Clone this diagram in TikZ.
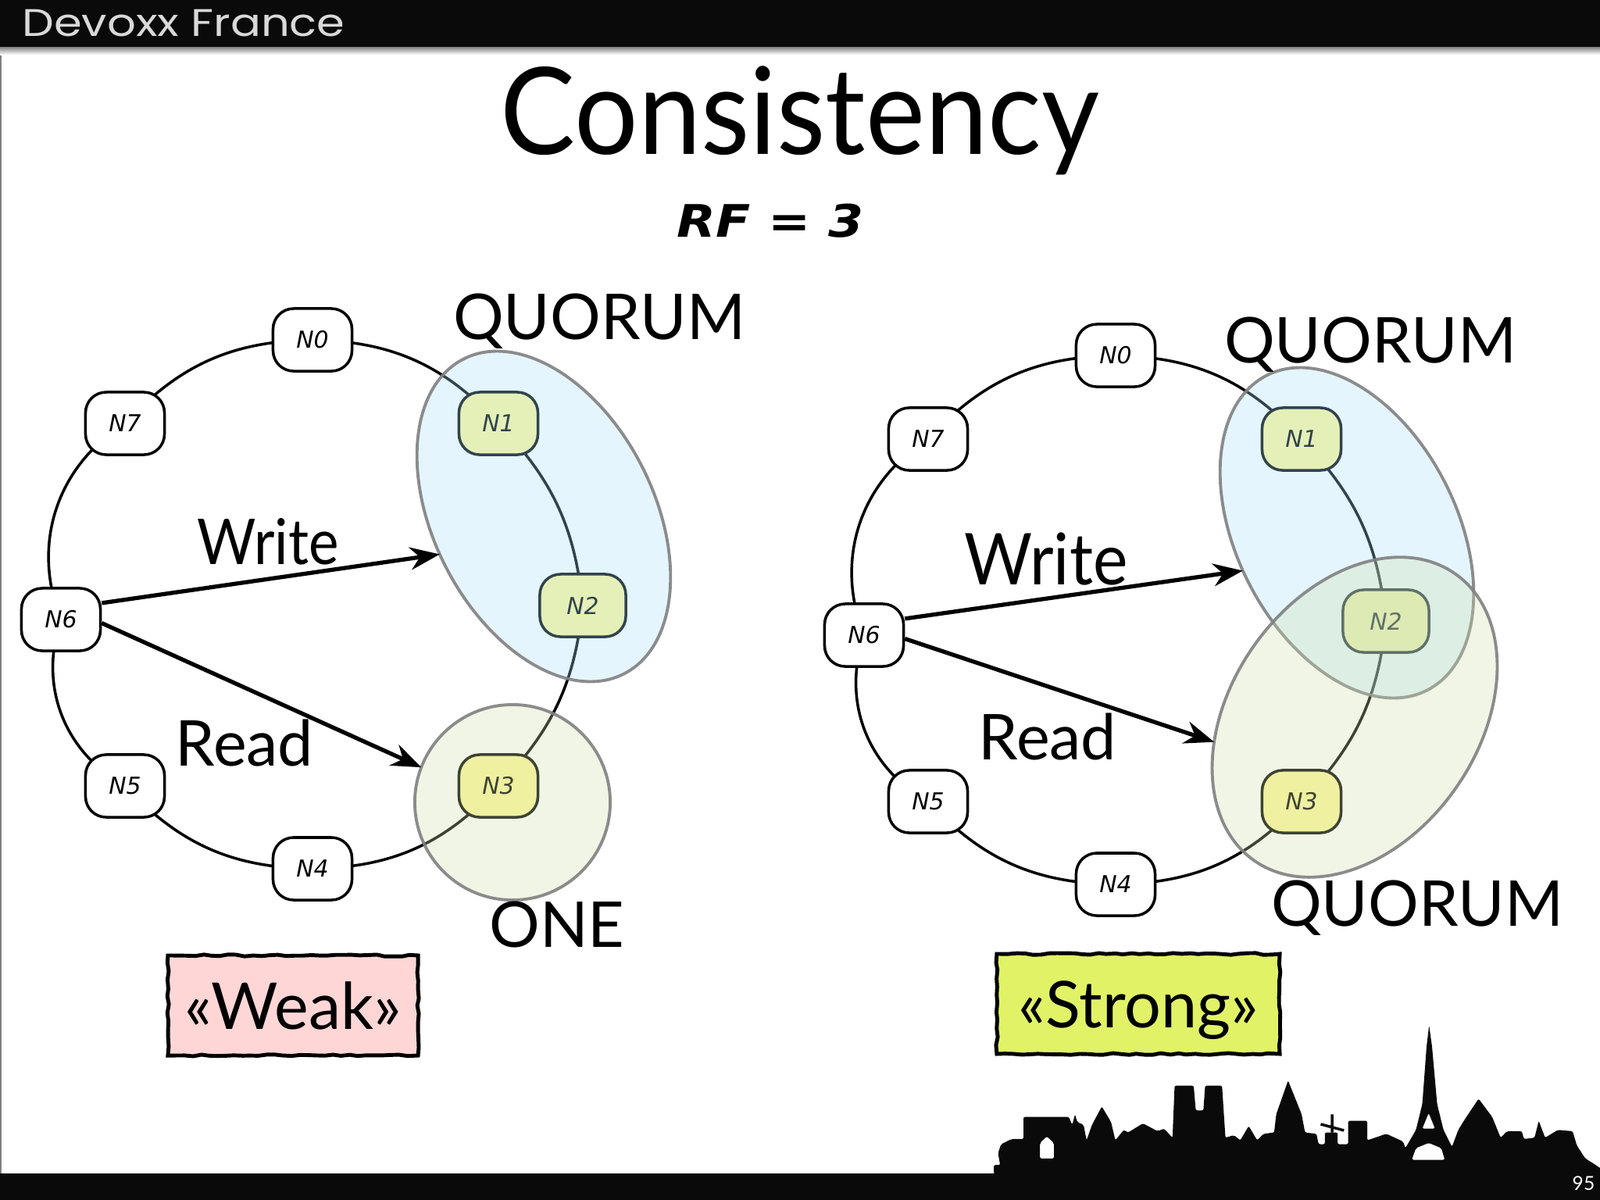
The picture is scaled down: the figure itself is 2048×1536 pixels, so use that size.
\documentclass[tikz,border=0pt]{standalone}
\usepackage{fontspec}
\setmainfont{Lato}
\newfontfamily\handfont{DejaVu Sans}
\newfontfamily\headfont{Poppins}
\usetikzlibrary{shapes.geometric, arrows.meta, decorations.pathmorphing, backgrounds}
\definecolor{bandblack}{RGB}{10, 10, 10}
\definecolor{quorumblue}{RGB}{168, 222, 252}
\definecolor{quorumgreen}{RGB}{205, 222, 172}
\definecolor{ringgreen}{RGB}{254, 248, 155}
\definecolor{weakpink}{RGB}{255, 214, 214}
\definecolor{stronglime}{RGB}{226, 242, 103}
\tikzset{
  ringnode/.style={draw=black, fill=white, line width=1pt, rounded corners=7.5pt, minimum width=1.01cm, minimum height=0.8cm, inner sep=0pt, font=\handfont\itshape\fontsize{8.5}{10}\selectfont},
  hotnode/.style={ringnode, fill=ringgreen},
  widenode/.style={hotnode, minimum width=1.1cm},
  ringarc/.style={draw=black, line width=1pt},
  flowarrow/.style={draw=black, line width=1.5pt, -{Stealth[length=3.8mm, width=2.9mm]}},
  zoneblue/.style={ellipse, draw=gray, draw opacity=.9, fill=quorumblue, fill opacity=.3, line width=1.1pt, inner sep=0pt, outer sep=0pt},
  zonegreen/.style={zoneblue, fill=quorumgreen},
  biglabel/.style={inner sep=0pt, font=\fontsize{23}{27}\selectfont},
  verdict/.style={draw=black, line width=1.4pt, minimum width=3.2cm, minimum height=1.28cm, inner sep=0pt, text height=.8cm, text depth=.2cm, font=\fontsize{23.5}{27}\selectfont, decorate, decoration={random steps, segment length=3pt, amplitude=.35pt}}
}
\begin{document}
\begin{tikzpicture}[x=0.01cm, y=-0.01cm]
  \useasboundingbox (0,0) rectangle (2048,1536);
  % slide frame
  \fill[gray] (0,0) rectangle (2,1536);
  \fill[bandblack] (0,0) rectangle (2048,60);
  \shade[top color=gray, bottom color=white] (0,60) rectangle (2048,70);
  \fill[bandblack] (0,1502) rectangle (2048,1536);
  \node[xscale=1.17] (header) at (235,30) {\headfont\color{white!85!black}\fontsize{14}{16}\selectfont Devoxx France};
  \node (pagenum) at (2027,1515) {\color{white}\fontsize{7}{8}\selectfont 95};
  \node[anchor=base, xscale=.93] (title) at (1024,197) {\fontsize{44}{50}\selectfont Consistency};
  \node[xscale=1.13] (rf) at (986,283) {\handfont\itshape\bfseries\fontsize{16.3}{20}\selectfont RF = 3};

  % skyline
  \begin{scope}[shift={(1200,1200)}, x=0.00541cm, y=-0.00333cm]
    \fill[bandblack, even odd rule, rounded corners=.6pt] (133,910) -- (133,875) -- (148,875) -- (143,830) -- (150,795) -- (175,775) -- (203,775) -- (203,690) -- (310,690) -- (318,720) -- (325,680) -- (330,710) -- (345,720) -- (352,780) -- (365,720) -- (388,650) -- (410,710) -- (420,780) -- (440,740) -- (450,750) -- (485,715) -- (520,745) -- (535,735) -- (555,770) -- (560,570) -- (605,570) -- (610,665) -- (628,665) -- (632,570) -- (672,570) -- (680,770) -- (700,760) -- (715,780) -- (735,725) -- (755,780) -- (770,755) -- (795,750) -- (800,680) -- (828,550) -- (860,680) -- (868,750) -- (895,755) -- (900,795) -- (915,795) -- (915,750) -- (945,750) -- (945,795) -- (970,795) -- (970,705) -- (1015,705) -- (1015,780) -- (1060,755) -- (1100,785) -- (1105,810) -- (1130,740) -- (1145,640) -- (1155,420) -- (1161,338) -- (1168,420) -- (1180,640) -- (1195,740) -- (1215,805) -- (1230,740) -- (1245,700) -- (1278,620) -- (1310,690) -- (1330,770) -- (1345,745) -- (1380,745) -- (1385,775) -- (1410,770) -- (1420,705) -- (1435,770) -- (1465,740) -- (1500,745) -- (1510,800) -- (1530,850) -- (1550,870) -- (1568,890) -- (1568,910) -- cycle
      (242,850) -- (242,790) -- (258,765) -- (275,790) -- (275,850) -- cycle
      (1120,855) -- (1130,810) -- (1160,790) -- (1190,810) -- (1198,855) -- cycle
      (1145,735) -- (1160,675) -- (1175,735) -- cycle;
    \draw[bandblack, line width=1pt] (905,718) -- (960,742) (932,680) -- (932,750);
  \end{scope}

  % both rings
  \foreach \side/\dx/\dy in {l/0/0, r/1028/20} {
    \foreach \name/\lab/\x/\y/\sty in {n0/N0/400/435/ringnode, n1/N1/638/542/hotnode, n2/N2/746/775/widenode, n3/N3/638/1006/hotnode, n4/N4/400/1112/ringnode, n5/N5/160/1006/ringnode, n6/N6/78/793/ringnode, n7/N7/160/542/ringnode}
      \node[\sty] (\side\name) at (\x+\dx,\y+\dy) {\lab};
    \begin{scope}[on background layer]
      \foreach \a/\b/\bnd in {n0/n1/23, n1/n2/19, n2/n3/19, n3/n4/23, n4/n5/23, n5/n6/40, n6/n7/40, n7/n0/23}
        \draw[ringarc] (\side\a.center) to[bend left=\bnd] (\side\b.center);
    \end{scope}
  }

  % zones
  \node[zoneblue, minimum width=4.52cm, minimum height=2.82cm, rotate=-63] (lquorum) at (696,661) {};
  \node[zonegreen, circle, minimum size=2.5cm] (lone) at (656,1027) {};
  \node[zoneblue, minimum width=4.52cm, minimum height=2.82cm, rotate=-63] (rquorum) at (1724,682) {};
  \node[zonegreen, minimum width=4.48cm, minimum height=3.16cm, rotate=55] (rquorumb) at (1734,918) {};

  % requests
  \draw[flowarrow] (ln6.22) -- (lquorum.263);
  \draw[flowarrow] (ln6.-5) -- (lone.159);
  \draw[flowarrow] (rn6.22) -- (rquorum.263);
  \draw[flowarrow] (rn6.-5) -- (rquorumb.135);

  % labels
  \node[biglabel] (lblq) at (767,411) {QUORUM};
  \node[biglabel] (lblone) at (713,1183) {ONE};
  \node[biglabel] (lblqr) at (1754,441) {QUORUM};
  \node[biglabel] (lblqb) at (1814,1162) {QUORUM};
  \node[biglabel, xscale=.9] (lblw) at (343,693) {Write};
  \node[biglabel] (lblr) at (313,951) {Read};
  \node[biglabel, xscale=.92, font=\fontsize{26}{30}\selectfont] (lblwr) at (1339,716) {Write};
  \node[biglabel] (lblrr) at (1341,943) {Read};
  \node[verdict, fill=weakpink] (weak) at (375,1287) {«Weak»};
  \node[verdict, fill=stronglime, minimum width=3.62cm] (strong) at (1457,1285) {«Strong»};
\end{tikzpicture}
\end{document}
